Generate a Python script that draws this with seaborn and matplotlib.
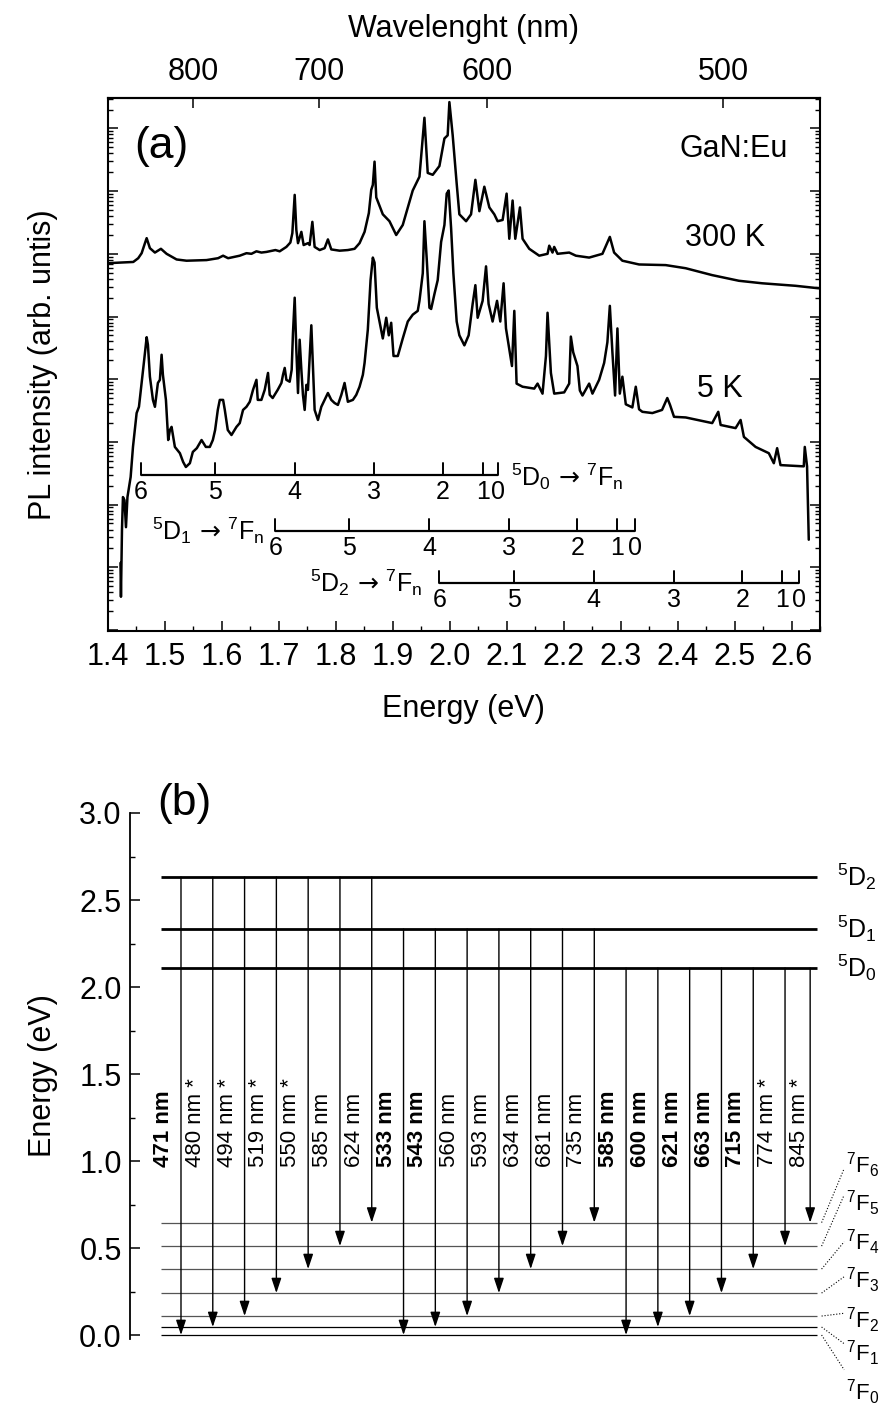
import numpy as np
import pandas as pd
import matplotlib
matplotlib.use("Agg")
import matplotlib.pyplot as plt
import matplotlib.transforms as mtransforms
from matplotlib.ticker import MultipleLocator, LogLocator, NullFormatter, FormatStrFormatter
import seaborn as sns

sns.set_style("ticks")
plt.rcParams["font.family"] = ["Liberation Sans", "DejaVu Sans"]
plt.rcParams["mathtext.fontset"] = "custom"
plt.rcParams["mathtext.rm"] = "Liberation Sans"
plt.rcParams["mathtext.it"] = "Liberation Sans"
plt.rcParams["mathtext.bf"] = "Liberation Sans:bold"
plt.rcParams["mathtext.sf"] = "DejaVu Sans"
plt.rcParams["mathtext.default"] = "regular"
for key in ["text.color", "axes.labelcolor", "xtick.color", "ytick.color", "axes.edgecolor"]:
    plt.rcParams[key] = "black"

# ---------------- data: panel (a) ----------------
e300 = [1.400, 1.4219, 1.4452, 1.4539, 1.4599, 1.4657, 1.4687, 1.4744, 1.4832, 1.4937,
        1.5037, 1.5212, 1.5387, 1.5737, 1.5940, 1.6028, 1.6116, 1.6320, 1.6438, 1.6525,
        1.6613, 1.6700, 1.6788, 1.6946, 1.7021, 1.7138, 1.7208, 1.7243, 1.7284, 1.7313,
        1.7342, 1.7401, 1.7441, 1.7517, 1.7546, 1.7594, 1.7634, 1.7722, 1.7809, 1.7867,
        1.7926, 1.8072, 1.8217, 1.8335, 1.8422, 1.8510, 1.8585, 1.8627, 1.8655, 1.8685,
        1.8715, 1.8830, 1.8947, 1.9065, 1.9180, 1.9355, 1.9473, 1.9560, 1.9618, 1.9706,
        1.9823, 1.9911, 1.9968, 1.9998, 2.0056, 2.0126, 2.0173, 2.0291, 2.0378, 2.0454,
        2.0524, 2.0611, 2.0699, 2.0786, 2.0844, 2.0932, 2.1002, 2.1049, 2.1107, 2.1154,
        2.1236, 2.1282, 2.1399, 2.1574, 2.1720, 2.1750, 2.1807, 2.1837, 2.1895, 2.2100,
        2.2217, 2.2450, 2.2683, 2.2813, 2.2888, 2.3033, 2.3326, 2.3793, 2.4144, 2.4609,
        2.5077, 2.5485, 2.6070, 2.6478]
log300 = [5.85, 5.86, 5.87, 5.93, 6.01, 6.17, 6.25, 6.09, 6.02, 6.08,
          6.00, 5.91, 5.89, 5.90, 5.93, 5.97, 5.93, 5.97, 6.01, 6.00,
          6.04, 6.02, 6.03, 6.06, 6.04, 6.11, 6.18, 6.33, 6.94, 6.38,
          6.17, 6.35, 6.14, 6.17, 6.14, 6.51, 6.11, 6.06, 6.09, 6.23,
          6.07, 6.05, 6.06, 6.08, 6.17, 6.35, 6.65, 7.02, 7.10, 7.47,
          6.90, 6.63, 6.52, 6.30, 6.46, 7.01, 7.23, 8.17, 7.29, 7.26,
          7.40, 7.84, 7.89, 8.42, 7.89, 7.12, 6.63, 6.52, 6.63, 7.18,
          6.68, 7.07, 6.74, 6.63, 6.52, 6.54, 6.96, 6.24, 6.85, 6.24,
          6.74, 6.24, 6.08, 5.97, 6.00, 6.13, 6.02, 6.11, 6.00, 6.02,
          5.97, 5.94, 6.00, 6.27, 6.02, 5.89, 5.83, 5.82, 5.77, 5.66,
          5.57, 5.53, 5.49, 5.45]

e5 = [1.4228, 1.4236, 1.4254, 1.4271, 1.4298, 1.4324, 1.4350, 1.4406, 1.4447, 1.4511,
      1.4552, 1.4599, 1.4639, 1.4687, 1.4709, 1.4744, 1.4797, 1.4832, 1.4884, 1.4919,
      1.4949, 1.4972, 1.5025, 1.5065, 1.5095, 1.5124, 1.5182, 1.5270, 1.5327, 1.5375,
      1.5445, 1.5497, 1.5567, 1.5650, 1.5725, 1.5795, 1.5848, 1.5888, 1.5935, 1.5970,
      1.6028, 1.6058, 1.6110, 1.6175, 1.6263, 1.6320, 1.6378, 1.6438, 1.6496, 1.6553,
      1.6613, 1.6636, 1.6700, 1.6758, 1.6816, 1.6846, 1.6898, 1.6986, 1.7051, 1.7079,
      1.7109, 1.7138, 1.7196, 1.7231, 1.7254, 1.7284, 1.7313, 1.7342, 1.7371, 1.7401,
      1.7429, 1.7459, 1.7489, 1.7517, 1.7576, 1.7599, 1.7634, 1.7692, 1.7751, 1.7809,
      1.7867, 1.7926, 1.7984, 1.8042, 1.8102, 1.8159, 1.8217, 1.8305, 1.8364, 1.8422,
      1.8480, 1.8510, 1.8567, 1.8615, 1.8655, 1.8685, 1.8725, 1.8772, 1.8830, 1.8890,
      1.8935, 1.8977, 1.9018, 1.9093, 1.9180, 1.9268, 1.9356, 1.9443, 1.9473, 1.9531,
      1.9560, 1.9601, 1.9648, 1.9678, 1.9736, 1.9793, 1.9853, 1.9911, 1.9951, 1.9986,
      2.0028, 2.0068, 2.0126, 2.0173, 2.0261, 2.0336, 2.0406, 2.0454, 2.0494, 2.0581,
      2.0641, 2.0686, 2.0756, 2.0834, 2.0891, 2.0949, 2.0991, 2.1049, 2.1096, 2.1137,
      2.1177, 2.1282, 2.1487, 2.1545, 2.1632, 2.1692, 2.1720, 2.1779, 2.1837, 2.2012,
      2.2100, 2.2129, 2.2170, 2.2245, 2.2287, 2.2333, 2.2450, 2.2508, 2.2625, 2.2713,
      2.2770, 2.2813, 2.2858, 2.2905, 2.2946, 2.2988, 2.3033, 2.3093, 2.3208, 2.3268,
      2.3326, 2.3384, 2.3559, 2.3729, 2.3821, 2.3869, 2.3939, 2.4144, 2.4609, 2.4715,
      2.4757, 2.5019, 2.5107, 2.5165, 2.5370, 2.5602, 2.5690, 2.5748, 2.5807, 2.6215,
      2.6233, 2.6273, 2.6303]
log5 = [1.07, 0.53, 1.60, 2.12, 2.07, 1.64, 2.12, 2.44, 2.92, 3.46,
        3.56, 3.94, 4.27, 4.67, 4.55, 4.04, 3.67, 3.56, 3.94, 3.99,
        4.39, 4.07, 3.67, 3.03, 3.19, 3.24, 2.92, 2.82, 2.68, 2.60,
        2.66, 2.84, 2.90, 3.03, 2.92, 2.92, 3.03, 3.19, 3.51, 3.67,
        3.67, 3.51, 3.19, 3.11, 3.24, 3.30, 3.51, 3.56, 3.64, 3.83,
        3.99, 3.67, 3.67, 3.83, 4.10, 3.75, 3.70, 3.83, 3.94, 4.07,
        4.18, 3.99, 3.96, 4.15, 4.74, 5.30, 4.47, 3.78, 4.63, 4.15,
        3.75, 3.51, 3.91, 3.83, 4.86, 4.31, 3.51, 3.35, 3.56, 3.67,
        3.78, 3.67, 3.62, 3.59, 3.75, 3.94, 3.64, 3.67, 3.75, 3.88,
        4.07, 4.26, 4.79, 5.58, 5.94, 5.86, 5.14, 4.92, 4.65, 4.98,
        4.70, 4.90, 4.37, 4.37, 4.65, 4.92, 5.03, 5.09, 5.25, 5.69,
        6.52, 5.91, 5.14, 5.12, 5.36, 5.58, 6.19, 6.46, 6.96, 7.01,
        6.41, 5.69, 4.92, 4.70, 4.54, 4.70, 5.20, 5.50, 4.98, 5.25,
        5.80, 5.20, 4.92, 5.25, 4.92, 5.53, 4.81, 4.48, 4.21, 5.09,
        3.93, 3.88, 3.85, 3.93, 3.77, 4.37, 5.06, 4.10, 3.77, 3.79,
        3.93, 4.68, 4.43, 4.21, 3.82, 3.74, 3.93, 3.77, 3.99, 4.26,
        4.59, 5.17, 4.43, 3.74, 4.81, 3.77, 4.04, 3.60, 3.55, 3.88,
        3.52, 3.48, 3.46, 3.51, 3.70, 3.59, 3.40, 3.39, 3.30, 3.48,
        3.27, 3.22, 3.35, 3.08, 2.92, 2.82, 2.66, 2.90, 2.63, 2.61,
        2.92, 2.61, 1.44]

# transition rulers (eV), n = 6 ... 0
ruler_n = ["6", "5", "4", "3", "2", "1", "0"]
ruler_d0 = [1.4583, 1.5883, 1.7284, 1.8667, 1.9881, 2.0585, 2.0856]
ruler_d1 = [1.6946, 1.8235, 1.9639, 2.1049, 2.2245, 2.2946, 2.3256]
ruler_d2 = [1.9823, 2.1128, 2.2529, 2.3939, 2.5135, 2.5835, 2.6140]
wl_ticks = [800, 700, 600, 500]

# ---------------- data: panel (b) ----------------
upper_names = ["5D0", "5D1", "5D2"]
upper_E = [2.109, 2.333, 2.632]
lower_E = [0.0, 0.046, 0.109, 0.241, 0.379, 0.511, 0.646]
arrow_upper = [2] * 7 + [1] * 7 + [0] * 7
arrow_lower = list(range(7)) * 3
arrow_nm = ["471", "480", "494", "519", "550", "585", "624",
            "533", "543", "560", "593", "634", "681", "735",
            "585", "600", "621", "663", "715", "774", "845"]
arrow_bold = [1, 0, 0, 0, 0, 0, 0, 1, 1, 0, 0, 0, 0, 0, 1, 1, 1, 1, 1, 0, 0]
arrow_star = [0, 1, 1, 1, 1, 0, 0, 0, 0, 0, 0, 0, 0, 0, 0, 0, 0, 0, 0, 1, 1]

# ---------------- figure ----------------
W, H = 882, 1408
fig = plt.figure(figsize=(W / 100, H / 100), dpi=100)


def px_axes(l, r, t, b):
    return [l / W, 1 - b / H, (r - l) / W, (b - t) / H]


ax1 = fig.add_axes(px_axes(107.5, 820, 97.7, 631))
ax2 = fig.add_axes(px_axes(130, 882, 813, 1338.5))

df300 = pd.DataFrame({"E": e300, "I": 10 ** np.array(log300)})
df5 = pd.DataFrame({"E": e5, "I": 10 ** np.array(log5)})
sns.lineplot(data=df300, x="E", y="I", ax=ax1, color="black", lw=1.8,
             estimator=None, sort=False)
sns.lineplot(data=df5, x="E", y="I", ax=ax1, color="black", lw=1.8,
             estimator=None, sort=False)
ax1.set_yscale("log")
ax1.set_xlim(1.4, 2.65)
ax1.set_ylim(10 ** -0.016, 10 ** 8.49)
ax1.xaxis.set_major_locator(MultipleLocator(0.1))
ax1.xaxis.set_minor_locator(MultipleLocator(0.05))
ax1.xaxis.set_major_formatter(FormatStrFormatter("%.1f"))
ax1.yaxis.set_major_locator(LogLocator(base=10, numticks=100))
ax1.yaxis.set_minor_locator(LogLocator(base=10, subs=np.arange(2, 10), numticks=100))
ax1.yaxis.set_major_formatter(NullFormatter())
ax1.yaxis.set_minor_formatter(NullFormatter())
ax1.tick_params(axis="both", which="major", direction="in", length=7, width=1.1,
                labelsize=22, top=False, right=True, pad=8)
ax1.tick_params(axis="both", which="minor", direction="in", length=3.5, width=1.0,
                top=False, right=True)
for s in ax1.spines.values():
    s.set_linewidth(1.5)
ax1.set_xlabel("Energy (eV)", fontsize=22, labelpad=16)
ax1.set_ylabel("PL intensity (arb. untis)", fontsize=22)
ax1.yaxis.set_label_coords(-0.070, 0.5)


def e2l(e):
    e = np.asarray(e, dtype=float)
    with np.errstate(divide="ignore", invalid="ignore"):
        return 1239.84 / e


secax = ax1.secondary_xaxis("top", functions=(e2l, e2l))
secax.set_xticks(wl_ticks)
secax.tick_params(direction="in", length=7, width=1.1, labelsize=22, pad=8)
secax.spines["top"].set_linewidth(1.5)
secax.set_xlabel("Wavelenght (nm)", fontsize=22, labelpad=14)

ax1.text(0.0751, 0.9094, "(a)", transform=ax1.transAxes, fontsize=32,
         ha="center", va="center")
ax1.text(0.9551, 0.9038, "GaN:Eu", transform=ax1.transAxes, fontsize=22,
         ha="right", va="center")
ax1.text(0.9228, 0.736, "300 K", transform=ax1.transAxes, fontsize=22,
         ha="right", va="center")
ax1.text(0.8919, 0.4538, "5 K", transform=ax1.transAxes, fontsize=22,
         ha="right", va="center")

trans = mtransforms.blended_transform_factory(ax1.transData, ax1.transAxes)
ruler_y = [0.2925, 0.1875, 0.0900]
tick_h = 0.0225
for es, yf in zip([ruler_d0, ruler_d1, ruler_d2], ruler_y):
    ax1.plot([es[0], es[-1]], [yf, yf], transform=trans, color="black", lw=1.6,
             solid_capstyle="butt")
    for e, n in zip(es, ruler_n):
        ax1.plot([e, e], [yf, yf + tick_h], transform=trans, color="black", lw=1.4)
        ax1.text(e, yf - 0.010, n, transform=trans, ha="center", va="top", fontsize=18)

arrow_tex = r"\,\mathsf{\rightarrow}\,"
ax1.text(2.1079, 0.2888, r"$^{5}D_{0}" + arrow_tex + r"{}^{7}F_{n}$", transform=trans,
         ha="left", va="center", fontsize=18)
ax1.text(1.6758, 0.1875, r"$^{5}D_{1}" + arrow_tex + r"{}^{7}F_{n}$", transform=trans,
         ha="right", va="center", fontsize=18)
ax1.text(1.9525, 0.0900, r"$^{5}D_{2}" + arrow_tex + r"{}^{7}F_{n}$", transform=trans,
         ha="right", va="center", fontsize=18)

# ---------------- panel (b) ----------------
x_left, x_right = -1.604, 22.05
ax2.set_xlim(x_left, x_right)
ax2.set_ylim(-0.02, 3.0)
for side in ["top", "right", "bottom"]:
    ax2.spines[side].set_visible(False)
ax2.spines["left"].set_linewidth(1.3)
ax2.set_xticks([])
ax2.yaxis.set_major_locator(MultipleLocator(0.5))
ax2.yaxis.set_minor_locator(MultipleLocator(0.25))
ax2.yaxis.set_major_formatter(FormatStrFormatter("%.1f"))
ax2.tick_params(axis="y", which="major", direction="in", length=7, width=1.1,
                labelsize=22, pad=6)
ax2.tick_params(axis="y", which="minor", direction="in", length=3.5, width=1.0)
ax2.set_ylabel("Energy (eV)", fontsize=22)
ax2.yaxis.set_label_coords(-0.096, 0.5)

lev_x0, lev_x1 = -0.629, 20.006
for e in upper_E:
    ax2.plot([lev_x0, lev_x1], [e, e], color="black", lw=2.0, solid_capstyle="butt")
for k, e in enumerate(lower_E):
    ax2.plot([lev_x0, lev_x1], [e, e], color="black" if k < 2 else "#555555",
             lw=0.9, solid_capstyle="butt")

arrow_x = np.arange(21, dtype=float)
arrow_x[-1] -= 0.21
for i in range(21):
    y0 = upper_E[arrow_upper[i]]
    y1 = lower_E[arrow_lower[i]]
    ax2.annotate("", xy=(arrow_x[i], y1), xytext=(arrow_x[i], y0),
                 arrowprops=dict(arrowstyle="-|>,head_length=0.6,head_width=0.2",
                                 mutation_scale=15, lw=1.0, color="black",
                                 shrinkA=0, shrinkB=0))
    txt = arrow_nm[i] + " nm" + (" *" if arrow_star[i] else "")
    ax2.annotate(txt, xy=(i, 0.965), xytext=(-5, 0), textcoords="offset points",
                 rotation=90, ha="right", va="bottom", fontsize=16,
                 fontweight="bold" if arrow_bold[i] else "normal")

for name, e in zip(upper_names, upper_E):
    ax2.text(20.64, e, r"$^{5}D_{%s}$" % name[-1], ha="left", va="center", fontsize=18)

f_label_y = [-0.328, -0.103, 0.086, 0.316, 0.534, 0.759, 0.977]
f_conn_y = [-0.20, -0.05, 0.125, 0.335, 0.536, 0.805, 0.957]
for k, e in enumerate(lower_E):
    ax2.text(20.93, f_label_y[k], r"$^{7}F_{%d}$" % k, ha="left", va="center",
             fontsize=16, clip_on=False)
    ax2.plot([20.15, 20.86], [e, f_conn_y[k]], color="black", lw=0.8, ls=":",
             clip_on=False)

ax2.text(0.094, 3.057, "(b)", fontsize=32, ha="center", va="center")

fig.savefig("out.png", dpi=100)
